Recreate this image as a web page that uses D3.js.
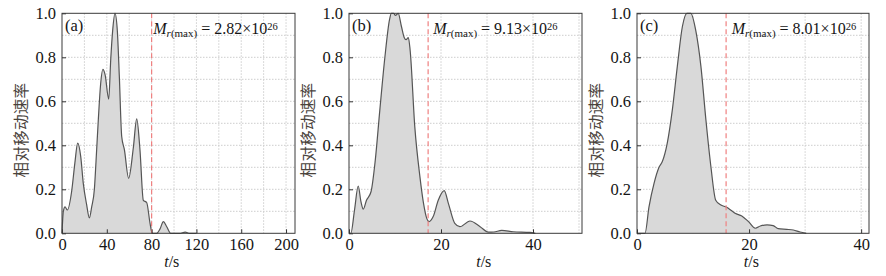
<!DOCTYPE html>
<html>
<head>
<meta charset="utf-8">
<script src="https://cdn.jsdelivr.net/npm/d3@7"></script>
<style>
  body { margin: 0; background: #fff; }
  svg { display: block; }
  .tick text { fill: #151515; }
  .tick line { stroke: #333; }
</style>
</head>
<body>
<div id="chart"></div>
<script>
// panel (a)
const tA = [0, 1.2, 2.7, 4.8, 8.6, 11.5, 14, 16.7, 19, 22, 24.4, 26.5, 28.9, 30.4, 32.4, 34.5, 36.5, 38.5, 41.7, 43.5, 45.2, 47.3, 49.4, 51.2, 53.3, 55.7, 59.5, 63.7, 66.7, 69.6, 72.6, 75.6, 78.6, 80.5, 84.5, 87.5, 90.5, 93.5, 97, 105, 110, 114, 120];
const vA = [0, 0.1, 0.12, 0.106, 0.19, 0.32, 0.41, 0.35, 0.227, 0.13, 0.07, 0.12, 0.2, 0.33, 0.515, 0.68, 0.745, 0.72, 0.61, 0.79, 0.92, 1.0, 0.92, 0.71, 0.44, 0.38, 0.25, 0.39, 0.52, 0.38, 0.15, 0.14, 0.045, 0, 0, 0.02, 0.053, 0.03, 0, 0, 0.005, 0, 0];
// panel (b)
const tB = [0, 0.4, 1.2, 2.0, 2.6, 3.1, 3.8, 4.8, 5.7, 6.7, 7.8, 8.8, 9.2, 9.7, 10.1, 10.7, 11.4, 12.0, 12.4, 12.9, 13.3, 14.3, 15.4, 16.2, 16.9, 17.4, 18.3, 19.4, 20.7, 21.6, 23, 24.1, 26.3, 28.5, 30.3, 31.5, 33.2, 35.7, 39.3, 40.5];
const vB = [0, 0, 0.106, 0.215, 0.144, 0.11, 0.15, 0.19, 0.33, 0.56, 0.80, 0.97, 1.0, 1.0, 0.99, 1.0, 0.94, 0.89, 0.88, 0.89, 0.83, 0.485, 0.26, 0.136, 0.068, 0.053, 0.076, 0.15, 0.194, 0.136, 0.045, 0.03, 0.056, 0.03, 0.005, 0.006, 0.013, 0.007, 0.004, 0];
// panel (c)
const tC = [0, 1.43, 2.14, 3.04, 3.93, 4.52, 5.4, 6.3, 7.2, 8.1, 8.9, 9.6, 10.5, 11.4, 12.3, 13.2, 14.05, 14.9, 16.0, 16.7, 17.5, 18.7, 19.9, 21.1, 22.0, 23.2, 24.3, 25.2, 26.7, 27.9, 29.1, 30.2];
const vC = [0, 0, 0.12, 0.227, 0.30, 0.326, 0.41, 0.56, 0.76, 0.94, 1.0, 1.0, 0.92, 0.76, 0.515, 0.30, 0.15, 0.13, 0.118, 0.106, 0.091, 0.079, 0.053, 0.023, 0.033, 0.038, 0.035, 0.021, 0.018, 0.015, 0.006, 0];

const panelLabels = ["(a)", "(b)", "(c)"];
const mrValues = ["2.82", "9.13", "8.01"];
const mrExponent = "26";
const dashTimes = [80, 17.2, 15.9];
const xTicks = [[0, 40, 80, 120, 160, 200], [0, 20, 40], [0, 20, 40]];
const xGridStep = [20, 10, 10];
const yTicks = [0, 0.2, 0.4, 0.6, 0.8, 1.0];
const yLabel = "相对移动速率";
const xLabel = ["t", "/s"];

const W = 886, H = 276;
const plotTop = 13.3, plotBottom = 233.3;
const panels = [
  { t: tA, v: vA, left: 62,  right: 295, xMax: 208,  annotAt: 81.5, xLabelAt: 98 },
  { t: tB, v: vB, left: 349, right: 582, xMax: 50.65, annotAt: 18.3, xLabelAt: 29.3 },
  { t: tC, v: vC, left: 637, right: 869, xMax: 41.4, annotAt: 16.9, xLabelAt: 20.4 }
];

const svg = d3.select("#chart").append("svg")
  .attr("width", W).attr("height", H)
  .attr("viewBox", `0 0 ${W} ${H}`)
  .attr("xmlns", "http://www.w3.org/2000/svg");
svg.append("rect").attr("width", W).attr("height", H).attr("fill", "#fff");

const serif = "'Liberation Serif', 'Times New Roman', serif";

panels.forEach((p, k) => {
  const x = d3.scaleLinear([0, p.xMax], [p.left, p.right]);
  const y = d3.scaleLinear([0, 1], [plotBottom, plotTop]);
  const g = svg.append("g").attr("class", "panel");

  // dotted grid
  const gx = d3.range(xGridStep[k], p.xMax, xGridStep[k]);
  const gy = d3.range(1, 10).map(i => i / 10);
  g.append("g").selectAll("line").data(gx).join("line")
    .attr("x1", d => x(d)).attr("x2", d => x(d))
    .attr("y1", plotTop).attr("y2", plotBottom)
    .attr("stroke", "#cdcdcd").attr("stroke-dasharray", "1.5,1.5");
  g.append("g").selectAll("line").data(gy).join("line")
    .attr("x1", p.left).attr("x2", p.right)
    .attr("y1", d => y(d)).attr("y2", d => y(d))
    .attr("stroke", "#cdcdcd").attr("stroke-dasharray", "1.5,1.5");

  const pts = p.t.map((t, i) => [t, p.v[i]]);
  const area = d3.area().x(d => x(d[0])).y0(y(0)).y1(d => y(d[1])).curve(d3.curveMonotoneX);
  const line = d3.line().x(d => x(d[0])).y(d => y(d[1])).curve(d3.curveMonotoneX);
  g.append("path").attr("d", area(pts)).attr("fill", "#d9d9d9");
  g.append("path").attr("d", line(pts)).attr("fill", "none")
    .attr("stroke", "#555").attr("stroke-width", 1.2);

  // max moment-rate marker
  g.append("line")
    .attr("x1", x(dashTimes[k])).attr("x2", x(dashTimes[k]))
    .attr("y1", plotTop).attr("y2", plotBottom)
    .attr("stroke", "#ef8080").attr("stroke-width", 1.2)
    .attr("stroke-dasharray", "5,3");

  // axes, ticks pointing in
  g.append("g").attr("transform", `translate(0 ${plotBottom})`)
    .call(d3.axisBottom(x).tickValues(xTicks[k]).tickSize(-4).tickPadding(5).tickFormat(d3.format("d")))
    .attr("font-family", serif).attr("font-size", 16.5)
    .call(a => a.select(".domain").remove());
  g.append("g").attr("transform", `translate(${p.left} 0)`)
    .call(d3.axisLeft(y).tickValues(yTicks).tickSize(-4).tickPadding(6).tickFormat(d3.format(".1f")))
    .attr("font-family", serif).attr("font-size", 16.5)
    .call(a => a.select(".domain").remove());

  g.append("rect")
    .attr("x", p.left).attr("y", plotTop)
    .attr("width", p.right - p.left).attr("height", plotBottom - plotTop)
    .attr("fill", "none").attr("stroke", "#3a3a3a").attr("stroke-width", 1);

  // texts
  g.append("text").attr("x", p.left + 3).attr("y", 31)
    .attr("font-family", serif).attr("font-size", 16.5).attr("fill", "#151515")
    .text(panelLabels[k]);

  const ann = g.append("text").attr("x", x(p.annotAt)).attr("y", 34)
    .attr("font-family", serif).attr("font-size", 16).attr("fill", "#151515");
  ann.append("tspan").attr("font-style", "italic").text("M");
  ann.append("tspan").attr("font-style", "italic").attr("font-size", 11).attr("dy", 3).text("r");
  ann.append("tspan").attr("font-size", 11).text("(max)");
  ann.append("tspan").attr("dy", -3).text("\u00a0=\u00a0" + mrValues[k] + "×10");
  ann.append("tspan").attr("font-size", 10.5).attr("dy", -4.5).text(mrExponent);

  const yl = 130, ylx = p.left - 41;
  g.append("text")
    .attr("transform", `translate(${ylx} ${yl}) rotate(-90)`)
    .attr("text-anchor", "middle").attr("dy", "0.36em")
    .attr("font-family", "'Noto Sans CJK SC', sans-serif").attr("font-size", 15.5)
    .attr("letter-spacing", 0.3)
    .attr("fill", "#4a433c")
    .text(yLabel);

  const xl = g.append("text").attr("x", x(p.xLabelAt)).attr("y", 266.5)
    .attr("text-anchor", "middle")
    .attr("font-family", serif).attr("font-size", 16).attr("fill", "#151515");
  xl.append("tspan").attr("font-style", "italic").text(xLabel[0]);
  xl.append("tspan").text(xLabel[1]);
});
</script>
</body>
</html>
